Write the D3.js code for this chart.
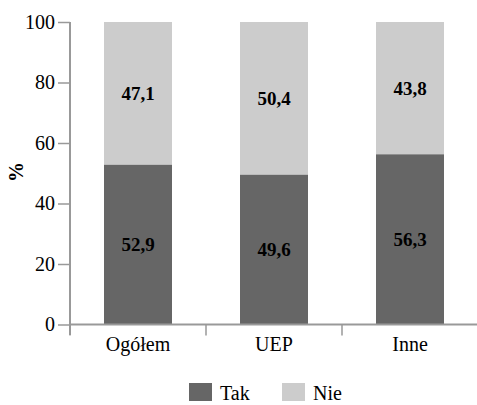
<!DOCTYPE html>
<html><head><meta charset="utf-8">
<script src="https://cdn.jsdelivr.net/npm/d3@7"></script>
</head><body style="margin:0">
<svg id="chart" width="477" height="405"></svg>
<script>
const categories = ["Ogółem", "UEP", "Inne"];
const takValues = [52.9, 49.6, 56.3];
const nieValues = [47.1, 50.4, 43.8];
const seriesNames = ["Tak", "Nie"];
const seriesColors = ["#666666", "#cccccc"];
const yTicks = [0, 20, 40, 60, 80, 100];
const fmt = v => v.toFixed(1).replace(".", ",");
const SERIF = "Liberation Serif";

const svg = d3.select("#chart");
const x = d3.scaleBand().domain(categories).range([70, 478]).paddingInner(0.5).paddingOuter(0.25);
const y = d3.scaleLinear().domain([0, 100]).range([324.5, 22]);

const rows = categories.map((c, i) => ({cat: c, Tak: takValues[i], Nie: nieValues[i]}));
const stacked = d3.stack().keys(seriesNames)(rows);

svg.selectAll("g.series").data(stacked).join("g").attr("class", "series")
  .attr("fill", (d, i) => seriesColors[i])
  .selectAll("rect").data(d => d).join("rect")
  .attr("x", d => x(d.data.cat)).attr("width", x.bandwidth())
  .attr("y", d => y(Math.min(d[1], 100)))
  .attr("height", d => y(d[0]) - y(Math.min(d[1], 100)));

const labelData = stacked.flatMap(s => s.map(d => ({cat: d.data.cat, lo: d[0], hi: d[1]})));
svg.selectAll("text.val").data(labelData).join("text").attr("class", "val")
  .attr("x", d => x(d.cat) + x.bandwidth() / 2)
  .attr("y", d => (y(d.lo) + y(Math.min(d.hi, 100))) / 2 + 6.5)
  .attr("text-anchor", "middle").attr("font-weight", "bold").attr("font-size", 19)
  .attr("font-family", SERIF).attr("fill", "#000").text(d => fmt(d.hi - d.lo));

// y axis
const ya = svg.append("g").attr("transform", "translate(70,0)")
  .call(d3.axisLeft(y).tickValues(yTicks).tickSize(12).tickPadding(3).tickSizeOuter(0))
  .attr("font-family", SERIF).attr("font-size", 20);
ya.select(".domain").remove();
ya.selectAll(".tick line").attr("stroke", "#999").attr("stroke-width", 1.5);
ya.selectAll(".tick text").attr("fill", "#000");
ya.append("line").attr("x1", 0).attr("x2", 0).attr("y1", 22).attr("y2", 335)
  .attr("stroke", "#999").attr("stroke-width", 2);

// x axis
const xa = svg.append("g").attr("transform", "translate(0,324.5)");
xa.append("line").attr("x1", 70).attr("x2", 478).attr("stroke", "#999").attr("stroke-width", 2);
const bounds = [70].concat(categories.map(c => x(c) + x.bandwidth() + x.step() * 0.25));
xa.selectAll("line.t").data(bounds).join("line").attr("class", "t")
  .attr("x1", d => d).attr("x2", d => d).attr("y1", 0).attr("y2", 11)
  .attr("stroke", "#999").attr("stroke-width", 1.5);
xa.selectAll("text.cat").data(categories).join("text").attr("class", "cat")
  .attr("x", d => x(d) + x.bandwidth() / 2).attr("y", 26).attr("text-anchor", "middle")
  .attr("font-size", 20).attr("font-family", SERIF).attr("fill", "#000").text(d => d);

// y label
svg.append("text").attr("transform", "translate(23,172) rotate(-90)").attr("text-anchor", "middle")
  .attr("font-weight", "bold").attr("font-size", 20).attr("font-family", SERIF).text("%");

// legend
const legX = [189, 282];
svg.selectAll("rect.leg").data(seriesNames).join("rect").attr("class", "leg")
  .attr("x", (d, i) => legX[i]).attr("y", 383).attr("width", 23).attr("height", 18)
  .attr("fill", (d, i) => seriesColors[i]);
svg.selectAll("text.leg").data(seriesNames).join("text").attr("class", "leg")
  .attr("x", (d, i) => legX[i] + 31).attr("y", 400).attr("font-size", 20)
  .attr("font-family", SERIF).attr("fill", "#000").text(d => d);
</script></body></html>
